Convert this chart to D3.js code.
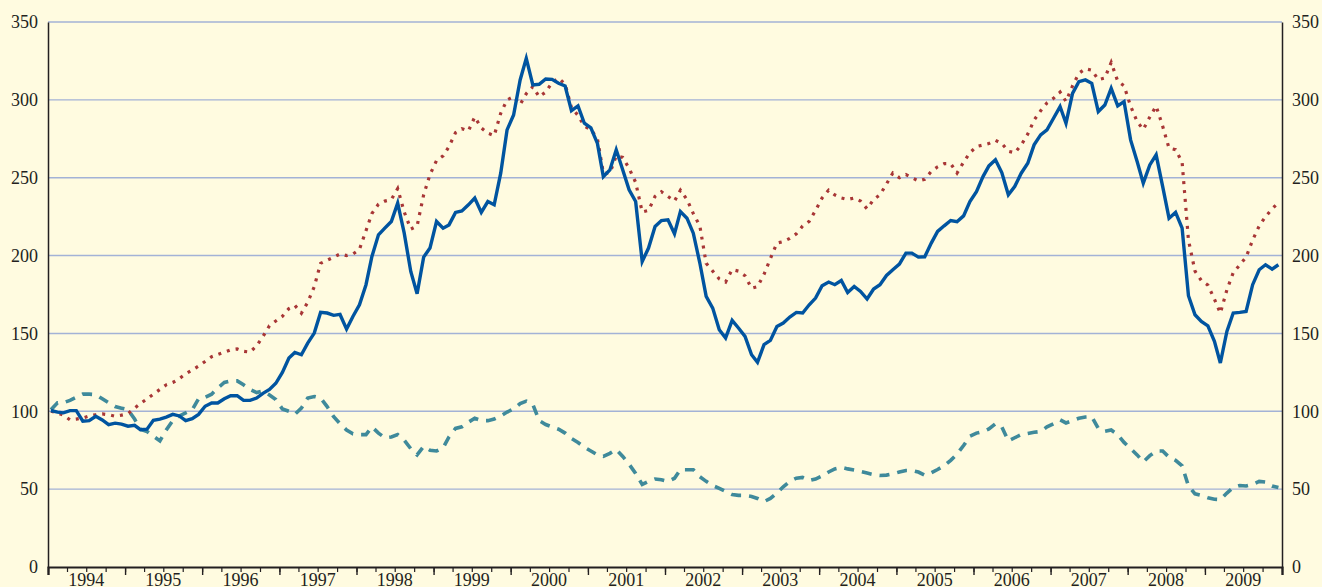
<!DOCTYPE html>
<html>
<head>
<meta charset="utf-8">
<script src="https://cdn.jsdelivr.net/npm/d3@7"></script>
<style>
    html, body { margin: 0; padding: 0; background: #fffbe0; overflow: hidden; }
    svg { display: block; }
    .tick-label { font-family: "Liberation Serif", "Times New Roman", serif; font-size: 18px; fill: #231f20; }
</style>
</head>
<body>
<svg id="chart" width="1322" height="587"></svg>
<script>
// monthly index values, Jan 1994 = 100
const years = d3.range(1994, 2010);
const yTicks = [0, 50, 100, 150, 200, 250, 300, 350];

const solidSeries = [
    100.5, 99.5, 99, 100.4, 100.4, 93.6, 94, 96.8, 94.4, 91.4, 92.4, 91.8,
    90.4, 91, 88.2, 88.5, 94.2, 95, 96.3, 98, 97, 94, 95.3, 98,
    103.2, 105.3, 105.3, 108, 110, 110, 107, 107, 108.5, 111.5, 114, 118,
    125, 134.2, 137.8, 136.3, 143.8, 150.2, 163.5, 163.1, 161.6, 162.2, 152.8, 160.9,
    168.4, 181.3, 199.4, 213.3, 217.6, 221.9, 233.7, 214.4, 189.8, 175.5, 199, 204.8,
    221.9, 217.6, 219.7, 227.7, 228.7, 232.6, 236.9, 227.7, 234.7, 232.6, 252.9, 280.7,
    290.3, 312.8, 326.7, 309.6, 310, 313.4, 313.2, 310.7, 308.9, 293.1, 296.1, 285,
    282, 272, 250.7, 255, 267.9, 255, 242.2, 234.7, 196.2, 204.8, 218.7, 222.5,
    223, 214, 228.3, 224, 214.4, 195.2, 173.8, 166.3, 152.4, 147, 158.4, 153.5,
    148.1, 136.3, 131.4, 142.8, 145.5, 154.5, 156.7, 160.5, 163.5, 163.1, 168.4, 172.7,
    180.6, 183, 181.3, 184, 176.3, 180.2, 177, 172.1, 178.5, 181.3, 187.2, 190.9,
    194.5, 201.6, 201.6, 199, 199.2, 208, 215.5, 219.1, 222.5, 221.7, 225.5, 234.7,
    241.1, 250.7, 257.6, 261.5, 253.3, 239, 244.3, 252.9, 259.3, 271.1, 277.5, 280.7,
    288.2, 295.7, 285, 304.2, 311.7, 312.8, 310.6, 292.5, 296.7, 307.4, 296.1, 298.9,
    274.3, 260.4, 246.5, 258.2, 264.7, 244.3, 224, 227.7, 217.6, 174.2, 162, 157.7,
    154.9, 144.9, 131, 151.3, 163.1, 163.5, 164.1, 181.3, 190.9, 194.1, 191.3, 194.1
];

const dottedSeries = [
    100, 99, 97.5, 94.5, 95, 95.7, 97, 97.8, 98.3, 97.8, 96.8, 97.5,
    98.5, 102, 105, 108, 111, 114, 117, 118.5, 121, 124, 126.5, 129,
    132, 135, 136.5, 138, 139.5, 140, 138.5, 138, 142, 148, 155, 158,
    161, 166, 168, 163, 170, 180, 195, 197, 199, 201, 200, 201,
    204, 216, 227, 233, 235, 236, 243, 228, 217, 219, 239, 252,
    261, 264, 270, 279, 281.5, 280, 289, 282, 278.6, 277, 291.4, 300,
    302, 297, 304, 308.5, 302, 305, 311, 314, 310, 295, 290, 283,
    281, 275, 253, 253, 264, 263, 256, 247, 228, 229, 238, 241,
    238, 235, 242, 236, 227, 219, 195, 190, 185, 183, 191, 190,
    187, 179, 180, 188, 198, 208, 209, 211, 214, 219, 222, 229,
    237, 242, 239, 237, 236, 237, 235, 230, 236, 239, 246, 253,
    250, 252, 250, 248, 249, 254, 257, 259, 259, 253, 260, 266,
    270, 271, 272, 274, 272, 267, 266, 271, 278, 287, 293, 298,
    301, 305, 299, 309, 317, 320, 319, 313, 314, 324, 312, 309,
    296, 286, 281, 289, 296, 283, 269, 268, 260, 210, 190, 184,
    181, 172, 163, 178, 189, 194, 199, 210, 219, 225, 230, 234
];

const dashedSeries = [
    101, 105.5, 105.5, 107, 109, 111, 111, 110.7, 108, 105.5, 103, 102,
    101, 95, 88.5, 87, 84, 81, 88, 94, 97, 99, 101, 108,
    109, 111, 115, 118.5, 119.5, 119.5, 117, 114, 112, 113, 110.5, 107.5,
    101.5, 100, 98, 102, 108.5, 109.5, 108.5, 103, 96.5, 92, 88, 85.5,
    85, 85, 90, 86, 83, 83.5, 85, 81.5, 76, 72, 77.5, 75,
    74.5, 76.5, 83.5, 89, 90, 93, 95.5, 94, 94, 95, 97, 99.5,
    101.5, 105, 106.5, 104.5, 94, 91.5, 90, 88.5, 86, 82.5, 80, 77,
    74.5, 72, 71, 73, 75.5, 71, 66, 60, 53, 55, 56.5, 56,
    55, 57, 62.5, 62.5, 62.5, 58, 55, 52.3, 50.5, 48.5, 46.5, 46,
    46, 45.3, 44, 42, 44, 47.5, 51.5, 55, 57, 57.5, 55.5, 56.5,
    58.5, 61, 63, 64, 63, 62.3, 61.3, 60.3, 59.3, 58.8, 59, 59.8,
    61, 62, 62, 61, 59, 60.5, 62.6, 65, 68.5, 72.5, 78, 84,
    86, 87, 88.7, 92, 90, 81, 83, 85, 85.8, 86.5, 87, 90,
    92, 94.5, 92.5, 94, 95.5, 96.3, 96.5, 89, 87.2, 88, 85, 80,
    76, 72, 67.5, 71.5, 74.5, 74.5, 70.5, 68.5, 65, 52, 47, 46,
    44.5, 43.5, 43.3, 47.5, 51, 52.3, 52, 53, 55, 54.5, 52, 51
];

const svg = d3.select('#chart');
const plotLeft = 48, plotRight = 1282, plotTop = 22, plotBottom = 567;

let x = d3.scaleTime()
    .domain([new Date(1994, 0, 1), new Date(2010, 0, 1)])
    .range([plotLeft, plotRight]);
let y = d3.scaleLinear()
    .domain([0, 350])
    .range([plotBottom, plotTop]);

const monthDate = (i) => new Date(1994, i, 15);

// gridlines
svg.append('g')
    .selectAll('line')
    .data(yTicks.filter(d => d > 0))
    .join('line')
    .attr('x1', plotLeft).attr('x2', plotRight)
    .attr('y1', d => y(d)).attr('y2', d => y(d))
    .attr('stroke', '#a3b2d6')
    .attr('stroke-width', 1.4);

// y axes, left and right
const yLeft = d3.axisLeft(y).tickValues(yTicks).tickSize(0).tickPadding(10);
const yRight = d3.axisRight(y).tickValues(yTicks).tickSize(0).tickPadding(10);

svg.append('g')
    .attr('transform', `translate(${plotLeft},0)`)
    .call(yLeft)
    .call(g => g.select('.domain').attr('stroke', '#231f20').attr('stroke-width', 1.5))
    .call(g => g.selectAll('text').attr('class', 'tick-label').attr('font-size', null).attr('font-family', null));

svg.append('g')
    .attr('transform', `translate(${plotRight},0)`)
    .call(yRight)
    .call(g => g.select('.domain').attr('stroke', '#231f20').attr('stroke-width', 1.5))
    .call(g => g.selectAll('text').attr('class', 'tick-label').attr('font-size', null).attr('font-family', null));

// x axis: year ticks long, quarter ticks short, labels mid-year
const xMinor = d3.axisBottom(x)
    .ticks(d3.timeMonth.every(3))
    .tickSize(5)
    .tickFormat('');
const xMajor = d3.axisBottom(x)
    .ticks(d3.timeYear.every(1))
    .tickSize(8)
    .tickFormat('');

svg.append('g')
    .attr('transform', `translate(0,${plotBottom})`)
    .call(xMinor)
    .call(g => g.select('.domain').remove())
    .call(g => g.selectAll('line').attr('stroke', '#231f20').attr('stroke-width', 1.2));

svg.append('g')
    .attr('transform', `translate(0,${plotBottom})`)
    .call(xMajor)
    .call(g => g.select('.domain').attr('stroke', '#231f20').attr('stroke-width', 2.2))
    .call(g => g.selectAll('line').attr('stroke', '#231f20').attr('stroke-width', 1.4));

svg.append('g')
    .selectAll('text')
    .data(years)
    .join('text')
    .attr('class', 'tick-label')
    .attr('x', d => x(new Date(d, 6, 1)))
    .attr('y', 586)
    .attr('text-anchor', 'middle')
    .text(d => d);

// lines
let line = d3.line()
    .x((d, i) => x(monthDate(i)))
    .y(d => y(d));

svg.append('path')
    .datum(dashedSeries)
    .attr('d', line)
    .attr('fill', 'none')
    .attr('stroke', '#3f8a9b')
    .attr('stroke-width', 3.6)
    .attr('stroke-dasharray', '10,8');

svg.append('path')
    .datum(dottedSeries)
    .attr('d', line)
    .attr('fill', 'none')
    .attr('stroke', '#a83636')
    .attr('stroke-width', 3.2)
    .attr('stroke-dasharray', '3,6');

svg.append('path')
    .datum(solidSeries)
    .attr('d', line)
    .attr('fill', 'none')
    .attr('stroke', '#0054a0')
    .attr('stroke-width', 3.4)
    .attr('stroke-linejoin', 'miter');
</script>
</body>
</html>
